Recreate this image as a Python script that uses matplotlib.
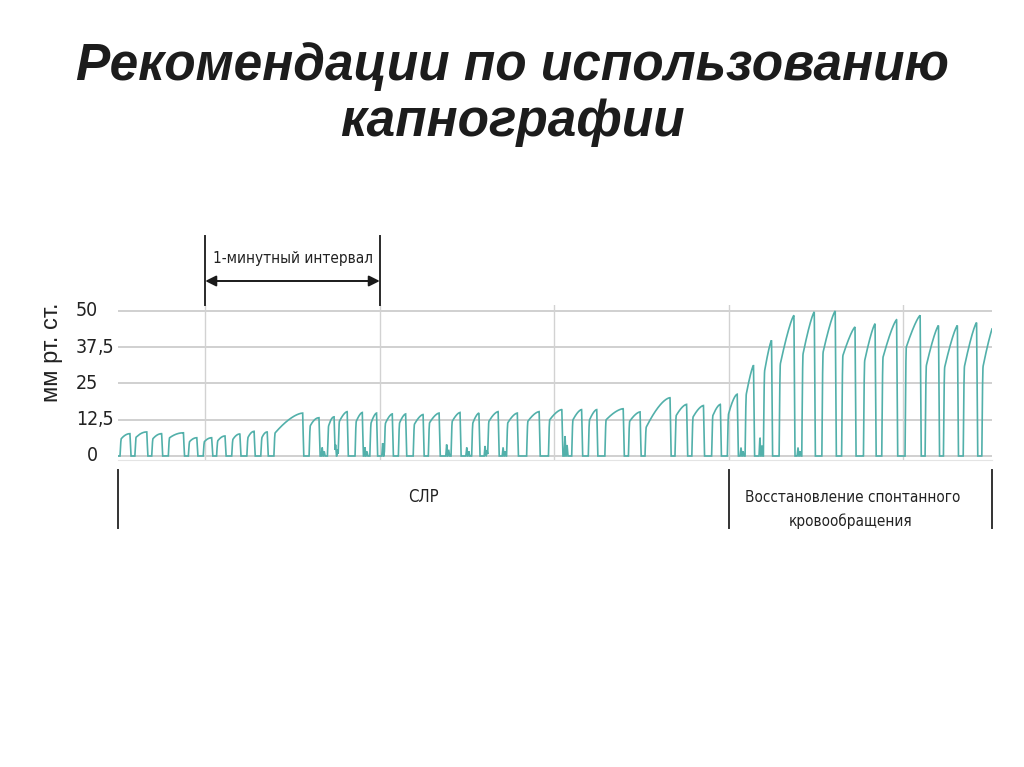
import numpy as np
import matplotlib
matplotlib.use('Agg')
import matplotlib.pyplot as plt
from matplotlib import transforms

# ---------------- data ----------------
title_lines = ["Рекомендации по использованию", "капнографии"]
y_ticks = [0, 12.5, 25, 37.5, 50]
y_tick_labels = ["0", "12,5", "25", "37,5", "50"]
y_label = "мм рт. ст."
interval_label = "1-минутный интервал"
interval_start, interval_end = 30, 90          # seconds
minute_lines = [30, 90, 150, 210, 270]         # seconds
phase_labels = ["СЛР", "Восстановление спонтанного", "кровообращения"]
phase_bounds = [0, 210, 300.5]                 # seconds

# per-breath capnogram readings: onset/offset (s), level after upstroke, end-tidal peak (mm Hg)
breath_on = [0.7, 5.8, 11.6, 17.3, 24.2, 29.3, 33.9, 39.1, 44.3, 49.1, 53.6,
             65.7, 72.0, 75.7, 81.5, 86.6, 91.6, 96.4, 101.5, 106.7, 114.5, 121.6,
             127.1, 133.6, 140.5, 148.0, 156.0, 161.7, 167.4, 175.5, 181.2, 191.5,
             197.3, 204.1, 209.5,
             215.6, 221.9, 227.3, 235.1, 242.0, 248.8, 256.3, 262.6, 270.6, 277.5,
             283.8, 290.6, 297.0]
breath_off = [4.1, 9.9, 15.0, 22.5, 27.1, 32.2, 36.8, 41.9, 46.8, 51.3, 63.5,
              69.1, 74.3, 78.8, 84.0, 88.9, 94.3, 98.9, 104.9, 110.4, 117.6, 124.1,
              130.7, 137.3, 144.8, 152.6, 159.4, 164.6, 173.7, 179.5, 189.8, 195.5,
              201.3, 207.1, 212.9,
              218.5, 224.7, 232.4, 239.4, 246.6, 253.4, 260.3, 267.7, 275.8, 282.1,
              288.6, 295.2, 301.5]
breath_start = [6.0, 6.5, 6.0, 6.3, 5.0, 5.0, 5.3, 5.8, 6.5, 6.5, 8.0,
                10.5, 10.5, 12.0, 12.0, 11.5, 11.5, 11.5, 11.0, 11.5, 12.0, 11.5,
                12.0, 11.5, 12.0, 12.5, 12.5, 12.5, 12.5, 12.0, 10.0, 14.0,
                13.5, 14.0, 14.6,
                21.5, 29.5, 31.9, 35.3, 35.9, 34.7, 33.0, 34.1, 37.6, 31.3,
                30.7, 31.0, 31.0]
breath_peak = [7.7, 8.3, 7.7, 8.0, 6.3, 6.3, 6.9, 7.6, 8.5, 8.3, 14.8,
               13.2, 13.5, 15.3, 15.0, 14.8, 14.5, 14.5, 14.3, 14.8, 15.0, 14.8,
               15.3, 14.8, 15.3, 16.0, 16.0, 16.0, 16.3, 15.2, 20.1, 17.8,
               17.4, 17.8, 21.3,
               31.3, 39.9, 48.5, 49.7, 50.0, 44.5, 45.6, 47.0, 48.5, 45.0,
               45.0, 46.0, 46.3]
# small artefacts near the baseline (compressions)
noise_t = [70.2, 74.8, 84.9, 91.0, 113.0, 119.9, 126.2, 132.4, 153.7, 214.2, 220.7, 233.8]
noise_h = [3.0, 4.0, 3.0, 4.5, 4.0, 3.0, 3.5, 3.0, 7.0, 3.0, 6.5, 3.0]

# ---------------- waveform ----------------
t = np.linspace(0, phase_bounds[-1], 14000)
co2 = np.zeros_like(t)
for on, off, vs, vp in zip(breath_on, breath_off, breath_start, breath_peak):
    rise, fall = 0.45, 0.35
    k = 2.0 if vp < 14 else (1.6 if vp < 25 else 1.3)
    m1 = (t >= on) & (t < on + rise)
    u = (t[m1] - on) / rise
    co2[m1] += vs * np.sin(u * np.pi / 2)
    m2 = (t >= on + rise) & (t < off)
    u = (t[m2] - on - rise) / (off - on - rise)
    co2[m2] += vs + (vp - vs) * (1 - (1 - u) ** k)
    m3 = (t >= off) & (t < off + fall)
    u = (t[m3] - off) / fall
    co2[m3] += vp * (1 - u)
for tc, h in zip(noise_t, noise_h):
    co2 += h * np.clip(1 - np.abs(t - tc) / 0.3, 0, None)
    co2 += 0.55 * h * np.clip(1 - np.abs(t - tc - 0.7) / 0.3, 0, None)

# ---------------- figure ----------------
W, H = 1024, 767
fig = plt.figure(figsize=(W / 100, H / 100), dpi=100)
fig.patch.set_facecolor('white')

ax = fig.add_axes([118 / W, 1 - 460.35 / H, 874 / W, (460.35 - 305.2) / H])
ax.set_xlim(0, phase_bounds[-1])
ax.set_ylim(-1.5, 52)
ax.set_facecolor('white')
for s in ['top', 'right', 'left']:
    ax.spines[s].set_visible(False)
ax.spines['bottom'].set_color('#e4e4e4')
ax.set_xticks([])
ax.set_yticks([])

grid_c = '#cdcdcd'
for yv in y_ticks:
    ax.axhline(yv, color=grid_c, lw=1.3, zorder=1)
for xv in minute_lines:
    ax.axvline(xv, color='#d2d2d2', lw=1.0, zorder=1)

ax.plot(t, co2, color='#52b0aa', lw=1.2, zorder=3, solid_joinstyle='miter')

# condensed face
cond = dict(family=['DejaVu Sans'], fontstretch='condensed')
txt_c = '#222222'

# y tick labels aligned on the decimal comma
blend_y = transforms.blended_transform_factory(fig.transFigure, ax.transData)
xa = 98 / W
for yv, lab in zip(y_ticks, y_tick_labels):
    if ',' in lab:
        a, b = lab.split(',')
        ax.text(xa, yv, a, transform=blend_y, ha='right', va='center',
                fontsize=14, color=txt_c, **cond)
        ax.text(xa, yv, ',' + b, transform=blend_y, ha='left', va='center',
                fontsize=14, color=txt_c, **cond)
    else:
        ax.text(xa, yv, lab, transform=blend_y, ha='right', va='center',
                fontsize=14, color=txt_c, **cond)

fig.text(52 / W, 1 - 352 / H, y_label, rotation=90, ha='center', va='center',
         fontsize=17, family=['Liberation Sans', 'DejaVu Sans'], color=txt_c)

# 1-minute interval annotation
blend_x = transforms.blended_transform_factory(ax.transData, fig.transFigure)
for xv in (interval_start, interval_end):
    ax.plot([xv, xv], [1 - 236 / H, 1 - 305 / H], transform=blend_x,
            color='#2a2a2a', lw=1.4, clip_on=False)
ya = 1 - 281 / H
ax.annotate('', xy=(interval_end, ya), xytext=(interval_start, ya),
            xycoords=blend_x, textcoords=blend_x,
            arrowprops=dict(arrowstyle='<|-|>', color='#1a1a1a', lw=1.4,
                            mutation_scale=16, shrinkA=0, shrinkB=0))
ax.text((interval_start + interval_end) / 2, 1 - 258 / H, interval_label,
        transform=blend_x, ha='center', va='center', fontsize=11,
        color=txt_c, **cond)

# phase separators and labels
for xv in phase_bounds:
    ax.plot([xv, xv], [1 - 470 / H, 1 - 528 / H], transform=blend_x,
            color='#333333', lw=1.4, clip_on=False)
ax.text((phase_bounds[0] + phase_bounds[1]) / 2, 1 - 497 / H, phase_labels[0],
        transform=blend_x, ha='center', va='center', fontsize=12,
        color=txt_c, **cond)
ax.text(252.5, 1 - 497 / H, phase_labels[1], transform=blend_x,
        ha='center', va='center', fontsize=11, color=txt_c, **cond)
ax.text(252.0, 1 - 521 / H, phase_labels[2], transform=blend_x,
        ha='center', va='center', fontsize=11, color=txt_c, **cond)

# title
for i, line in enumerate(title_lines):
    fig.text(0.5, 1 - (80 + 56 * i) / H, line, ha='center', va='baseline',
             fontsize=37, fontweight='bold', fontstyle='italic',
             family=['Liberation Sans', 'DejaVu Sans'], color='#1c1c1c')

fig.savefig('out.png', dpi=100, facecolor='white')
